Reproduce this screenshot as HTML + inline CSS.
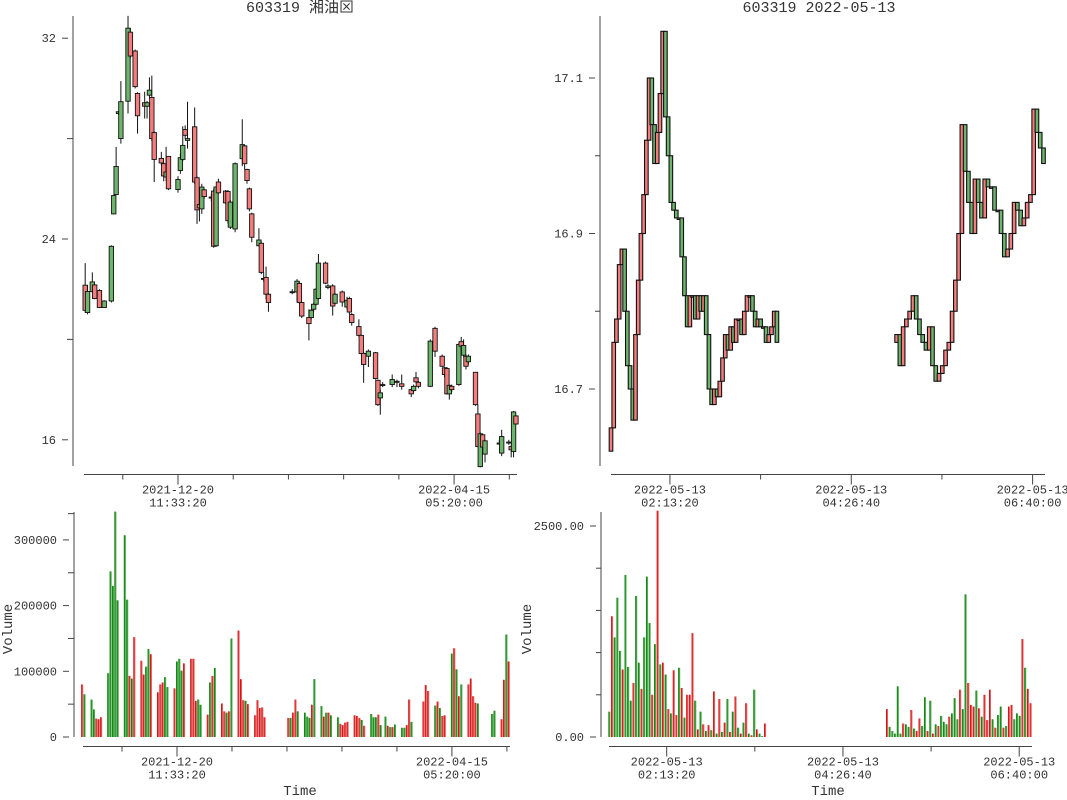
<!DOCTYPE html>
<html><head><meta charset="utf-8"><style>
html,body{margin:0;padding:0;background:#fff;}
svg{display:block;}
text{font-family:"Liberation Mono","Noto Sans CJK SC",monospace;fill:#333;}
</style></head><body>
<svg id="c" width="1067" height="800" viewBox="0 0 1067 800"></svg>
<script>
// ---------- LEFT: daily candles (day offset from 2021-12-20) ----------
const dDays=[-39,-38,-36,-35,-33,-31,-28,-27,-26,-25,-24,-21,-20,-18,-17,-14,-13,-12,-11,-10,-7,-6,-5,-4,0,1,2,3,4,7,8,9,10,11,14,15,16,17,20,21,22,24,27,28,29,30,31,34,35,36,37,38,48,50,51,52,55,56,57,58,59,62,63,65,66,69,71,72,73,76,77,78,80,83,84,85,86,90,92,94,98,99,100,101,106,108,111,112,113,114,115,118,119,120,121,122,125,126,127,128,129,135,136,139,140,141,142];
const dOpen=[21.16,21.91,22.29,21.63,21.27,21.53,23.71,25.73,26.89,29.07,29.47,32.4,31.29,30.07,28.91,29.29,29.43,29.93,28.0,27.17,27.03,26.51,26.67,26.0,26.37,27.24,27.73,28.13,28.0,26.27,25.16,25.24,26.07,25.69,25.67,23.71,26.07,25.84,25.44,24.73,25.47,27.0,27.76,27.0,26.33,25.2,24.07,23.96,22.67,22.43,21.8,21.47,21.9,22.32,21.47,20.93,20.63,21.16,21.4,22.0,23.04,22.24,22.13,21.33,21.8,21.49,21.56,21.09,20.67,20.16,19.44,19.0,19.53,18.44,17.4,17.87,18.2,18.4,18.33,18.13,17.83,18.13,18.31,18.13,19.93,19.53,18.93,18.6,17.83,18.17,18.0,19.8,19.73,19.76,18.93,19.33,17.4,15.73,16.24,15.71,15.96,15.87,16.13,15.91,15.6,17.11,16.63];
const dHigh=[23.04,22.16,22.67,22.2,22.0,21.56,23.75,25.75,27.67,29.1,30.29,32.89,32.4,31.55,29.85,29.87,29.5,30.44,30.51,28.3,27.47,27.05,27.67,27.3,26.5,27.4,28.49,28.53,29.47,29.24,26.5,25.4,26.2,26.0,25.8,26.0,26.1,26.4,25.95,25.95,25.55,27.05,28.77,27.75,26.8,26.05,25.05,24.43,23.9,22.67,22.9,21.85,22.0,22.4,22.3,21.5,21.2,21.2,21.45,22.05,23.4,23.1,22.2,22.2,21.85,21.95,21.7,21.7,21.05,20.8,20.2,19.5,19.6,19.5,18.4,18.0,18.3,18.6,18.4,18.6,18.05,18.2,18.7,18.35,20.0,20.5,19.4,18.9,18.9,18.2,18.2,19.85,20.1,20.0,19.4,19.4,18.7,17.4,16.3,16.25,16.0,16.0,16.4,16.0,15.8,17.15,17.0];
const dLow=[21.07,21.0,21.85,21.6,21.25,21.25,21.47,24.98,25.75,28.95,27.8,29.0,31.2,30.0,28.2,28.8,28.8,29.6,27.9,26.27,26.95,26.3,26.3,25.95,25.85,26.6,27.1,28.0,27.6,26.2,24.6,24.7,25.0,25.6,25.5,23.65,23.68,25.8,25.4,24.6,24.4,24.27,26.9,26.77,26.2,25.1,23.87,23.7,22.6,22.3,21.6,21.1,21.8,21.5,21.4,20.85,19.96,20.8,21.1,21.35,21.6,22.2,22.0,20.95,21.4,21.3,21.2,21.0,20.55,20.1,19.4,18.27,18.9,18.4,17.35,17.0,18.1,18.1,18.1,18.0,17.7,17.9,18.25,18.05,18.1,19.3,18.9,18.5,17.8,17.6,17.9,18.15,19.6,19.3,18.8,19.0,17.35,15.7,14.9,15.5,15.1,15.8,15.35,15.8,15.3,15.3,16.6];
const dClose=[22.16,21.07,21.91,22.17,21.95,21.27,21.53,25.0,25.77,29.0,28.0,29.49,32.24,31.49,29.8,29.43,29.29,29.73,29.64,28.24,27.21,27.0,26.47,27.29,25.97,26.73,27.17,28.36,27.93,28.47,26.44,25.37,25.2,25.96,25.65,25.91,23.73,26.27,25.91,25.89,24.47,24.4,27.2,27.71,26.77,26.0,25.0,23.73,23.83,22.4,22.47,21.8,21.87,21.89,22.23,21.47,20.87,20.87,21.2,21.4,21.63,23.04,22.07,22.13,21.44,21.89,21.29,21.63,20.99,20.51,20.16,19.44,19.33,19.47,18.37,17.67,18.18,18.2,18.3,18.23,18.0,17.96,18.47,18.29,18.13,20.44,19.33,18.87,18.84,17.83,18.13,18.2,19.91,19.37,19.33,19.11,18.69,17.03,14.93,16.2,15.43,15.85,15.47,15.88,15.73,15.53,16.95];
const priceTicksL=[32,24,16];
const priceMinorL=[28,20];
// ---------- LEFT: daily volume ----------
const vDays=[-40,-39,-36,-35,-34,-33,-32,-29,-28,-27,-26,-25,-22,-21,-20,-19,-18,-15,-14,-13,-12,-11,-8,-7,-6,-5,-4,-1,0,1,2,3,6,7,8,9,10,13,14,15,16,19,20,21,22,23,26,27,28,29,30,33,34,35,36,37,47,48,49,50,51,54,55,56,57,58,61,62,63,64,65,68,69,70,71,72,75,76,77,78,79,82,83,84,85,86,88,89,90,91,92,95,96,97,98,99,104,105,106,109,110,111,112,113,116,117,118,119,120,123,124,125,126,127,133,134,137,138,139,140];
const vVals=[80,65,57,42,28,27,30,97,252,230,343,208,307,209,93,89,152,116,95,107,134,126,68,80,83,91,76,74,115,119,101,112,119,119,55,57,49,34,83,93,105,51,39,37,39,150,162,88,56,55,50,33,56,44,45,30,29,29,37,57,39,37,31,29,49,88,47,31,37,37,33,30,20,18,22,23,33,32,29,26,17,35,30,30,34,18,31,17,15,15,19,14,14,18,57,23,54,79,70,48,54,44,32,33,127,135,103,62,80,80,89,62,52,51,35,40,27,87,156,115];
const vDir="rgggrrrgggggggrgrrrggrrrrggrgggrrrrggrgrgrrgrgrrrgrrrrrrrgrrggggrggrgrggrrrrrrrgrgggrggrgrgggrrgrrrgrgrrgrgrgrrrrgggrrgr";
const volTicksL=[0,100000,200000,300000];
// ---------- RIGHT: intraday (closes, 2-min steps) ----------
const amCloses=[16.65,16.76,16.79,16.86,16.88,16.80,16.73,16.70,16.66,16.77,16.84,16.90,16.95,17.02,17.10,17.04,16.99,17.03,17.08,17.16,17.05,17.00,16.94,16.93,16.92,16.92,16.87,16.82,16.78,16.82,16.82,16.79,16.82,16.80,16.82,16.77,16.70,16.68,16.70,16.69,16.71,16.74,16.77,16.75,16.78,16.76,16.79,16.79,16.77,16.80,16.82,16.82,16.80,16.78,16.79,16.78,16.78,16.76,16.77,16.78,16.80,16.76];
const pmCloses=[16.77,16.73,16.78,16.79,16.80,16.82,16.79,16.77,16.76,16.75,16.78,16.73,16.71,16.72,16.73,16.75,16.76,16.80,16.84,16.90,17.04,16.98,16.94,16.90,16.97,16.94,16.92,16.97,16.96,16.96,16.93,16.93,16.90,16.87,16.88,16.90,16.94,16.93,16.91,16.92,16.94,16.95,17.06,17.03,17.01,16.99];
const firstOpen=16.62;
const amVol=[300,1430,1180,1650,1020,800,1920,830,430,640,1670,880,570,1180,1900,1350,500,1100,2680,860,880,740,330,280,790,260,820,580,230,500,500,1230,430,90,300,150,70,140,80,540,40,450,60,170,450,60,300,480,110,40,170,400,40,20,560,90,40,10,160];
const pmVol=[330,120,70,40,600,40,160,150,120,320,100,70,220,130,470,70,430,40,150,130,250,180,150,240,280,460,210,560,330,1690,640,380,360,550,340,240,500,200,560,210,110,260,360,110,130,360,380,210,280,250,1160,820,570,400];
const amVolDir="grgggrgggrggrgggrgrgrgrgrrgrgrrrgrgrgrgrgrgrgrgrgrgrgrgrggr";
const pmVolDir="rgggggrggrgrrggrgrgrgggrgggrggrrrgrgrrrgrggrgrrgggrgrr";
const priceTicksR=[17.1,16.9,16.7];
const priceMinorR=[17.0,16.8];
const volTicksR=[0,2500];
const volMinorR=[500,1000,1500,2000];

// ---------- helpers ----------
const NS="http://www.w3.org/2000/svg";
const svg=document.getElementById('c');
function mk(tag,attrs,parent){const e=document.createElementNS(NS,tag);for(const k in attrs)e.setAttribute(k,attrs[k]);(parent||svg).appendChild(e);return e;}
function txt(x,y,s,anchor,size,parent){const t=mk('text',{x:x,y:y,'text-anchor':anchor||'middle','font-size':size||11},parent);t.textContent=s;return t;}
const AX='#444', UPF='#f47c7c', DNF='#6db56d', UPV='#dd1111', DNV='#118811';

const xL=d=>178+d*2.38, yL=p=>239-(p-24)*25.1;
const xLV=d=>177+d*2.37, yLV=v=>737-v*0.000657;
const xR=m=>611+m*1.36, yR=p=>78+(17.1-p)*777.5;
const xRV=m=>609.4+m*1.322, yRV=v=>737-v*0.0844;

let g=mk('g',{});

txt(300,12,'603319 湘油⊠','middle',15,g);
g=mk('g',{});

txt(819,12,'603319 2022-05-13','middle',15,g);

function yAxis(name,x,y0,y1,ticks,minors,yf,fmt,labEnd,tickFrom,minorFrom){
  const a=mk('g',{});
  mk('line',{x1:x,y1:y0,x2:x,y2:y1,stroke:AX},a);
  ticks.forEach(v=>{const y=yf(v);mk('line',{x1:tickFrom,y1:y,x2:tickFrom+(x-tickFrom)*0.55,y2:y,stroke:AX},a);txt(labEnd,y+4,fmt(v),'end',12,a);});
  minors.forEach(v=>{const y=yf(v);mk('line',{x1:minorFrom,y1:y,x2:x,y2:y,stroke:AX},a);});
}
function xAxis(name,x0,x1,y,tickXs,labelIdx,labels){
  const a=mk('g',{});
  mk('line',{x1:x0,y1:y,x2:x1,y2:y,stroke:AX},a);
  tickXs.forEach((tx,i)=>{const li=labelIdx.indexOf(i);mk('line',{x1:tx,y1:y,x2:tx,y2:y+(li>=0?10:5),stroke:AX},a);
    if(li>=0){txt(tx,y+19,labels[li][0],'middle',12,a);txt(tx,y+32,labels[li][1],'middle',12,a);}});
}
const stepL=116/5, tickDaysL=[-1,0,1,2,3,4,5,6].map(k=>k*stepL);
const labL=[['2021-12-20','11:33:20'],['2022-04-15','05:20:00']];
const tickSecR=[8000,12000,16000,20000,24000];
const labR=[['2022-05-13','02:13:20'],['2022-05-13','04:26:40'],['2022-05-13','06:40:00']];
const secToMin=s=>(s-5400)/60;

// LEFT PRICE
yAxis('left-price-y-axis',73,16,466,priceTicksL,priceMinorL,yL,v=>String(v),56,62,67);
xAxis('left-price-x-axis',84,517,474.5,tickDaysL.map(xL),[1,6],labL);
const lc=mk('g',{});
dDays.forEach((d,i)=>{
  const x=xL(d),o=dOpen[i],c=dClose[i],up=c>=o;
  const cg=mk('g',{},lc);
  
  
  mk('line',{x1:x,y1:yL(dHigh[i]),x2:x,y2:yL(dLow[i]),stroke:'#111'},cg);
  const t=yL(Math.max(o,c)),b=yL(Math.min(o,c));
  mk('rect',{x:x-2.2,y:t,width:4.4,height:Math.max(1,b-t),fill:up?UPF:DNF,stroke:'#111','stroke-width':0.9},cg);
});

// LEFT VOLUME
yAxis('left-volume-y-axis',74,512,737,volTicksL,[50000,150000,250000,340000],yLV,v=>String(v),57,63,68);
xAxis('left-volume-x-axis',83,510,746.5,tickDaysL.map(xLV),[1,6],labL);
let t=txt(8,625,'Volume','middle',14);t.setAttribute('transform','rotate(-90 12 625)');

t=txt(300,795,'Time','middle',14);

const lv=mk('g',{});
vDays.forEach((d,i)=>{
  const x=xLV(d),y=yLV(vVals[i]*1000),up=vDir[i]==='r';
  const r=mk('rect',{x:x-1,y:y,width:2,height:737-y,fill:up?'#e06060':'#50a850'},lv);
  
  
  mk('line',{x1:x-0.5,y1:y,x2:x-0.5,y2:737,stroke:up?UPV:DNV,'stroke-width':1},lv);
});

// RIGHT PRICE
yAxis('right-price-y-axis',600,16,466,priceTicksR,priceMinorR,yR,v=>v.toFixed(1),583,589,595);
xAxis('right-price-x-axis',611,1045,474.5,tickSecR.map(s=>xR(secToMin(s))),[0,2,4],labR);
const rc=mk('g',{});
function drawSession(closes,startMin,step,prevClose){
  let prev=prevClose;
  closes.forEach((c,i)=>{
    const x=xR(startMin+i*step),o=prev,up=c>=o;
    const t=yR(Math.max(o,c)),b=yR(Math.min(o,c));
    const r=mk('rect',{x:x-1.8,y:t,width:3.6,height:Math.max(1.5,b-t),fill:up?UPF:DNF,stroke:'#111','stroke-width':1.1},rc);
    
    
    prev=c;
  });
}
drawSession(amCloses,0,2,firstOpen);
drawSession(pmCloses,210,2.4,amCloses[amCloses.length-1]);

// RIGHT VOLUME
yAxis('right-volume-y-axis',601,512,737,volTicksR,volMinorR,yRV,v=>v.toFixed(2),584,590,596);
xAxis('right-volume-x-axis',609,1032,746.5,tickSecR.map(s=>xRV(secToMin(s))),[0,2,4],labR);
t=txt(527,625,'Volume','middle',14);t.setAttribute('transform','rotate(-90 531 625)');

t=txt(828,795,'Time','middle',14);

const rv=mk('g',{});
function drawVol(vals,dirs,startMin,step){
  vals.forEach((v,i)=>{
    const x=xRV(startMin+i*step),y=yRV(v),up=dirs[i]==='r';
    const r=mk('rect',{x:x-1,y:y,width:2,height:737-y,fill:up?'#e06060':'#50a850'},rv);
    
    
    mk('line',{x1:x-0.5,y1:y,x2:x-0.5,y2:737,stroke:up?UPV:DNV},rv);
  });
}
drawVol(amVol,amVolDir,0,2.03);
drawVol(pmVol,pmVolDir,210,2.05);
</script>
</body></html>
